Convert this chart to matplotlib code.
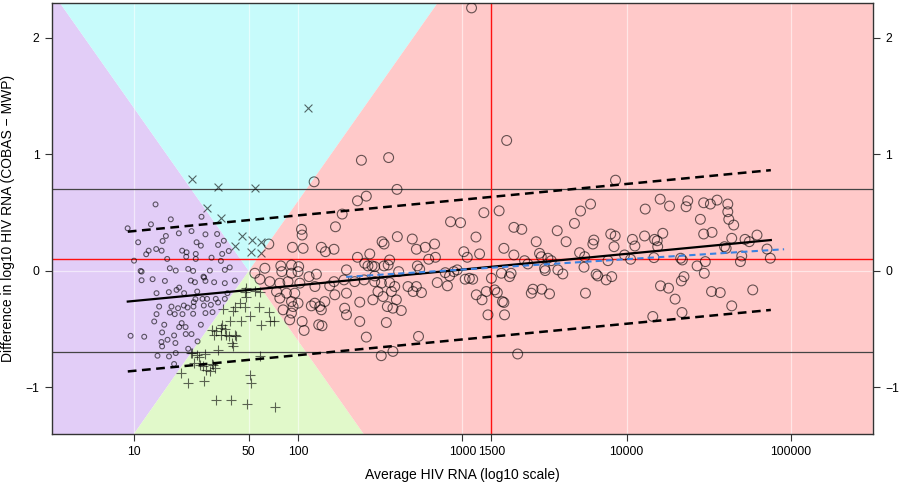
import numpy as np
import matplotlib.pyplot as plt
from matplotlib.ticker import NullLocator

plt.rcParams['font.family'] = ['Liberation Sans', 'DejaVu Sans']

# ---- data (x stored as log10 of average HIV RNA) ----
purple_lx = [1.131, 0.961, 1.103, 1.224, 1.025, 1.194, 1.174, 1.273, 1.35, 1.411,
             1.435, 1.506, 1.381, 1.407, 1.547, 1.512, 1.089, 1.135, 1.168, 1.074,
             1.293, 1.32, 1.376, 1.376, 1.318, 1.0, 1.202, 1.472, 1.529, 1.537,
             1.577, 1.218, 1.254, 1.33, 1.36, 1.462, 1.04, 1.553, 1.583, 1.423,
             1.046, 1.113, 1.188, 1.346, 1.371, 1.427, 1.435, 1.488, 1.553, 1.614,
             1.137, 1.212, 1.259, 1.275, 1.305, 1.385, 1.417, 1.445, 1.498, 1.512,
             1.553, 1.569, 1.153, 1.228, 1.268, 1.303, 1.326, 1.362, 1.425, 1.468,
             1.364, 1.374, 1.137, 1.218, 1.248, 1.295, 1.36, 1.435, 1.478, 1.123,
             1.184, 1.29, 1.314, 1.275, 1.407, 0.979, 1.062, 1.171, 1.204, 1.244,
             1.315, 1.35, 1.387, 1.171, 1.252, 1.33, 1.143, 1.213, 1.254, 1.244,
             1.167, 1.046]
purple_y = [0.571, 0.366, 0.40, 0.443, 0.246, 0.30, 0.257, 0.323, 0.342, 0.465,
            0.314, 0.317, 0.246, 0.217, 0.259, 0.223, 0.174, 0.188, 0.174, 0.143,
            0.174, 0.16, 0.146, 0.103, 0.122, 0.088, 0.103, 0.114, 0.086, 0.146,
            0.171, 0.023, 0.003, 0.017, 0.0, 0.003, 0.0, 0.009, 0.03, -0.049,
            -0.08, -0.071, -0.086, -0.083, -0.097, -0.057, -0.086, -0.097, -0.105, -0.083,
            -0.191, -0.182, -0.163, -0.143, -0.191, -0.177, -0.24, -0.24, -0.24, -0.271,
            -0.24, -0.191, -0.306, -0.306, -0.32, -0.297, -0.314, -0.306, -0.297, -0.291,
            -0.268, -0.242, -0.371, -0.357, -0.371, -0.371, -0.368, -0.362, -0.354, -0.434,
            -0.462, -0.448, -0.482, -0.482, -0.462, -0.557, -0.565, -0.528, -0.591, -0.554,
            -0.542, -0.542, -0.605, -0.648, -0.619, -0.668, -0.728, -0.734, -0.705, -0.799,
            -0.61, -0.006]

cyan_lx = [1.352, 1.509, 1.735, 1.443, 1.527, 2.062, 1.658, 1.618, 1.721, 1.772,
           1.711, 1.772]
cyan_y = [0.79, 0.722, 0.708, 0.537, 0.451, 1.398, 0.30, 0.217, 0.262, 0.251,
          0.160, 0.151]

green_lx = [1.681, 1.736, 1.77, 1.618, 1.675, 1.603, 1.543, 1.705, 1.76, 1.821,
            1.776, 1.827, 1.853, 1.65, 1.583, 1.537, 1.476, 1.502, 1.529, 1.488,
            1.529, 1.563, 1.614, 1.594, 1.512, 1.356, 1.431, 1.395, 1.366, 1.401,
            1.472, 1.441, 1.492, 1.289, 1.33, 1.427, 1.705, 1.711, 1.767, 1.502,
            1.589, 1.691, 1.861, 1.644, 1.675, 1.685, 1.555, 1.58, 1.623, 1.603,
            1.35, 1.381, 1.42, 1.46, 1.482]
green_y = [-0.143, -0.171, -0.182, -0.306, -0.306, -0.348, -0.325, -0.383, -0.306, -0.354,
           -0.462, -0.434, -0.434, -0.434, -0.434, -0.468, -0.505, -0.52, -0.491, -0.554,
           -0.548, -0.548, -0.554, -0.619, -0.676, -0.705, -0.713, -0.742, -0.79, -0.805,
           -0.799, -0.848, -0.833, -0.876, -0.962, -0.948, -0.89, -0.962, -0.734, -1.11,
           -1.11, -1.141, -1.17, -0.277, -0.177, -0.22, -0.50, -0.56, -0.56, -0.648,
           -0.705, -0.719, -0.819, -0.862, -0.805]

red_lx = [2.385, 2.097, 2.361, 2.415, 2.268, 2.227, 2.02, 2.024, 1.965, 2.03,
          2.141, 2.166, 2.218, 1.821, 1.797, 1.894, 1.959, 2.003, 1.9, 1.959,
          1.999, 2.066, 2.111, 2.294, 2.361, 2.405, 2.436, 2.425, 2.45, 1.736,
          1.767, 1.827, 1.888, 1.938, 2.01, 2.102, 2.218, 2.192, 2.279, 2.344,
          2.401, 2.466, 1.868, 1.929, 1.979, 1.888, 1.959, 1.999, 2.101, 2.162,
          2.223, 2.294, 2.375, 2.455, 1.908, 1.969, 2.08, 2.131, 2.141, 2.283,
          1.959, 2.294, 2.024, 2.125, 2.145, 2.375, 2.036, 2.415, 1.948,
          2.551, 2.602, 3.131, 3.224, 2.928, 2.989, 3.083, 2.604, 2.511, 2.523,
          2.695, 2.72, 2.774, 2.831, 3.009, 3.03, 3.105, 3.253, 2.795, 2.836,
          2.557, 2.523, 2.548, 2.466, 2.612, 2.726, 2.74, 2.896, 2.922, 2.948,
          2.969, 3.017, 3.043, 3.063, 3.177, 3.238, 2.466, 2.507, 2.557, 2.588,
          2.669, 2.72, 2.7, 2.751, 2.847, 2.909, 2.486, 2.568, 2.517, 2.598,
          2.543, 2.577, 2.628, 3.085, 3.12, 3.146, 3.197, 3.213, 3.244, 3.253,
          2.537, 3.156, 3.257, 2.733, 2.506, 2.577,
          3.056, 3.27, 3.933, 3.781, 3.72, 3.683, 3.314, 3.362, 3.578, 3.45,
          3.632, 3.904, 3.931, 3.801, 3.795, 3.924, 4.036, 3.314, 3.379, 3.399,
          3.47, 3.481, 3.521, 3.542, 3.714, 3.745, 3.887, 3.988, 4.025, 3.501,
          3.505, 3.582, 3.612, 3.741, 3.297, 3.287, 3.815, 3.825, 3.876, 3.91,
          3.43, 3.42, 3.484, 3.531, 3.75, 3.337,
          4.205, 4.262, 4.114, 4.363, 4.373, 4.47, 4.511, 4.552, 4.617, 4.617,
          4.623, 4.653, 4.45, 4.47, 4.521, 4.11, 4.171, 4.187, 4.221, 4.051,
          4.19, 4.641, 4.597, 4.607, 4.722, 4.748, 4.795, 4.856, 4.876, 4.694,
          4.702, 4.167, 4.33, 4.34, 4.43, 4.48, 4.474, 4.334, 4.35, 4.207,
          4.256, 4.296, 4.518, 4.571, 4.769, 4.641, 4.338, 4.16]
red_y = [0.95, 0.765, 0.602, 0.642, 0.488, 0.379, 0.357, 0.308, 0.203, 0.194,
         0.203, 0.165, 0.186, 0.231, 0.023, 0.043, 0.051, 0.037, -0.006, -0.02,
         -0.006, -0.049, -0.028, 0.009, 0.117, 0.066, 0.146, 0.043, 0.043, -0.02,
         -0.071, -0.092, -0.105, -0.092, -0.105, -0.134, -0.092, -0.128, -0.077, -0.092,
         -0.077, -0.043, -0.177, -0.191, -0.191, -0.234, -0.263, -0.277, -0.277, -0.263,
         -0.205, -0.191, -0.268, -0.248, -0.334, -0.306, -0.30, -0.306, -0.334, -0.32,
         -0.362, -0.377, -0.434, -0.462, -0.471, -0.434, -0.511, -0.568, -0.42,
         0.973, 0.70, 0.50, 0.516, 0.422, 0.414, 0.291, 0.294, 0.251, 0.231,
         0.274, 0.186, 0.203, 0.231, 0.165, 0.117, 0.146, 0.194, 0.10, 0.117,
         0.094, 0.043, 0.051, 0.037, -0.006, 0.043, 0.015, -0.015, -0.043, -0.006,
         0.009, -0.071, -0.063, -0.071, -0.063, -0.02, -0.092, -0.105, -0.1, -0.134,
         -0.134, -0.134, -0.177, -0.186, -0.1, -0.128, -0.177, -0.177, -0.22, -0.248,
         -0.306, -0.32, -0.34, -0.205, -0.248, -0.177, -0.163, -0.186, -0.263, -0.271,
         -0.443, -0.377, -0.377, -0.562, -0.728, -0.691,
         2.258, 1.12, 0.779, 0.574, 0.514, 0.408, 0.374, 0.357, 0.345, 0.251,
         0.251, 0.317, 0.30, 0.265, 0.231, 0.208, 0.271, 0.137, 0.088, 0.06,
         0.151, 0.122, 0.109, 0.088, 0.157, 0.122, 0.088, 0.137, 0.10, 0.023,
         0.003, 0.009, -0.026, 0.032, -0.02, -0.049, -0.028, -0.043, -0.077, -0.049,
         -0.157, -0.191, -0.157, -0.197, -0.191, -0.713,
         0.616, 0.557, 0.531, 0.551, 0.602, 0.585, 0.574, 0.608, 0.574, 0.508,
         0.443, 0.394, 0.443, 0.317, 0.331, 0.30, 0.271, 0.259, 0.323, 0.214,
         0.208, 0.28, 0.208, 0.194, 0.271, 0.251, 0.308, 0.188, 0.109, 0.08,
         0.128, 0.114, 0.109, 0.094, 0.043, 0.08, -0.02, -0.086, -0.049, -0.128,
         -0.148, -0.242, -0.177, -0.186, -0.163, -0.30, -0.357, -0.391]

# fitted lines (end points)
fit_x = [9.16, 75700]
fit_y = [-0.263, 0.265]
band = 0.6
blue_x = [196, 91200]
blue_y = [-0.051, 0.186]

xticks = [10, 50, 100, 1000, 1500, 10000, 100000]
xticklabels = ['10', '50', '100', '1000', '1500', '10000', '100000']
yticks = [-1, 0, 1, 2]

# region boundaries: log10(x) = log10(50) +/- 0.5*y
cx = np.log10(50)
half = 0.5
lx0, lx1 = 0.5, 5.5
y0, y1 = -1.4, 2.3

fig = plt.figure(figsize=(9.18, 4.86), dpi=100)
ax = fig.add_axes([0.0566, 0.107, 0.8941, 0.8868])
ax.set_xscale('log')

def P(pts):
    return [10 ** p[0] for p in pts], [p[1] for p in pts]

a_top = cx - half * y1
a_bot = cx - half * y0
b_top = cx + half * y1
b_bot = cx + half * y0
purple = [(lx0, y1), (a_top, y1), (cx, 0), (b_bot, y0), (lx0, y0)]
cyan = [(a_top, y1), (b_top, y1), (cx, 0)]
green = [(b_bot, y0), (cx, 0), (a_bot, y0)]
red = [(b_top, y1), (lx1, y1), (lx1, y0), (a_bot, y0), (cx, 0)]
for poly, col in [(purple, '#e2cdf7'), (cyan, '#c7fbfb'),
                  (green, '#e1f9ca'), (red, '#ffc9c9')]:
    xs, ys = P(poly)
    ax.fill(xs, ys, color=col, lw=0, zorder=0)

for xv in [10, 50, 100, 1000, 10000, 100000]:
    ax.axvline(xv, color='white', alpha=0.55, lw=0.9, zorder=1)
ax.axhline(0, color='white', alpha=0.55, lw=0.9, zorder=1)

ax.axhline(0.7, color='#444444', lw=0.9, zorder=2)
ax.axhline(-0.7, color='#444444', lw=0.9, zorder=2)
ax.axhline(0.1, color='#ff1010', lw=1.0, zorder=2)
ax.axvline(1500, color='#ff1010', lw=1.0, zorder=2)

ec = (0, 0, 0, 0.6)
ax.scatter(10 ** np.array(purple_lx), purple_y, s=12, facecolors='none',
           edgecolors=ec, linewidths=0.8, zorder=3)
ax.scatter(10 ** np.array(cyan_lx), cyan_y, s=32, marker='x', c=[ec],
           linewidths=0.8, zorder=3)
ax.scatter(10 ** np.array(green_lx), green_y, s=46, marker='+', c=[ec],
           linewidths=0.8, zorder=3)
ax.scatter(10 ** np.array(red_lx), red_y, s=50, facecolors='none',
           edgecolors=ec, linewidths=0.8, zorder=3)

fy = np.array(fit_y)
ax.plot(fit_x, fy, color='black', lw=1.6, zorder=4)
ax.plot(fit_x, fy + band, color='black', lw=1.8, dashes=(3.5, 2.2), zorder=4)
ax.plot(fit_x, fy - band, color='black', lw=1.8, dashes=(3.5, 2.2), zorder=4)
ax.plot(blue_x, blue_y, color='#3b82e0', lw=1.5, dashes=(3, 2), zorder=4)

ax.set_xlim(10 ** lx0, 10 ** lx1)
ax.set_ylim(y0, y1)
ax.set_xticks(xticks)
ax.set_xticklabels(xticklabels)
ax.xaxis.set_minor_locator(NullLocator())
ax.set_yticks(yticks)
ax.tick_params(axis='both', length=5, width=0.8, color='#333333',
               labelsize=8.8, pad=4)
ax.tick_params(axis='y', right=True, labelright=True)
for sp in ax.spines.values():
    sp.set_color('#333333')
    sp.set_linewidth(1.0)

fig.text(0.5 * (0.0566 + 0.9507), 0.008, 'Average HIV RNA (log10 scale)',
         ha='center', va='bottom', fontsize=10)
fig.text(0.009, 0.55, 'Difference in log10 HIV RNA (COBAS \u2212 MWP)',
         rotation=90, ha='center', va='center', fontsize=10)

fig.savefig('out.png', dpi=100)
